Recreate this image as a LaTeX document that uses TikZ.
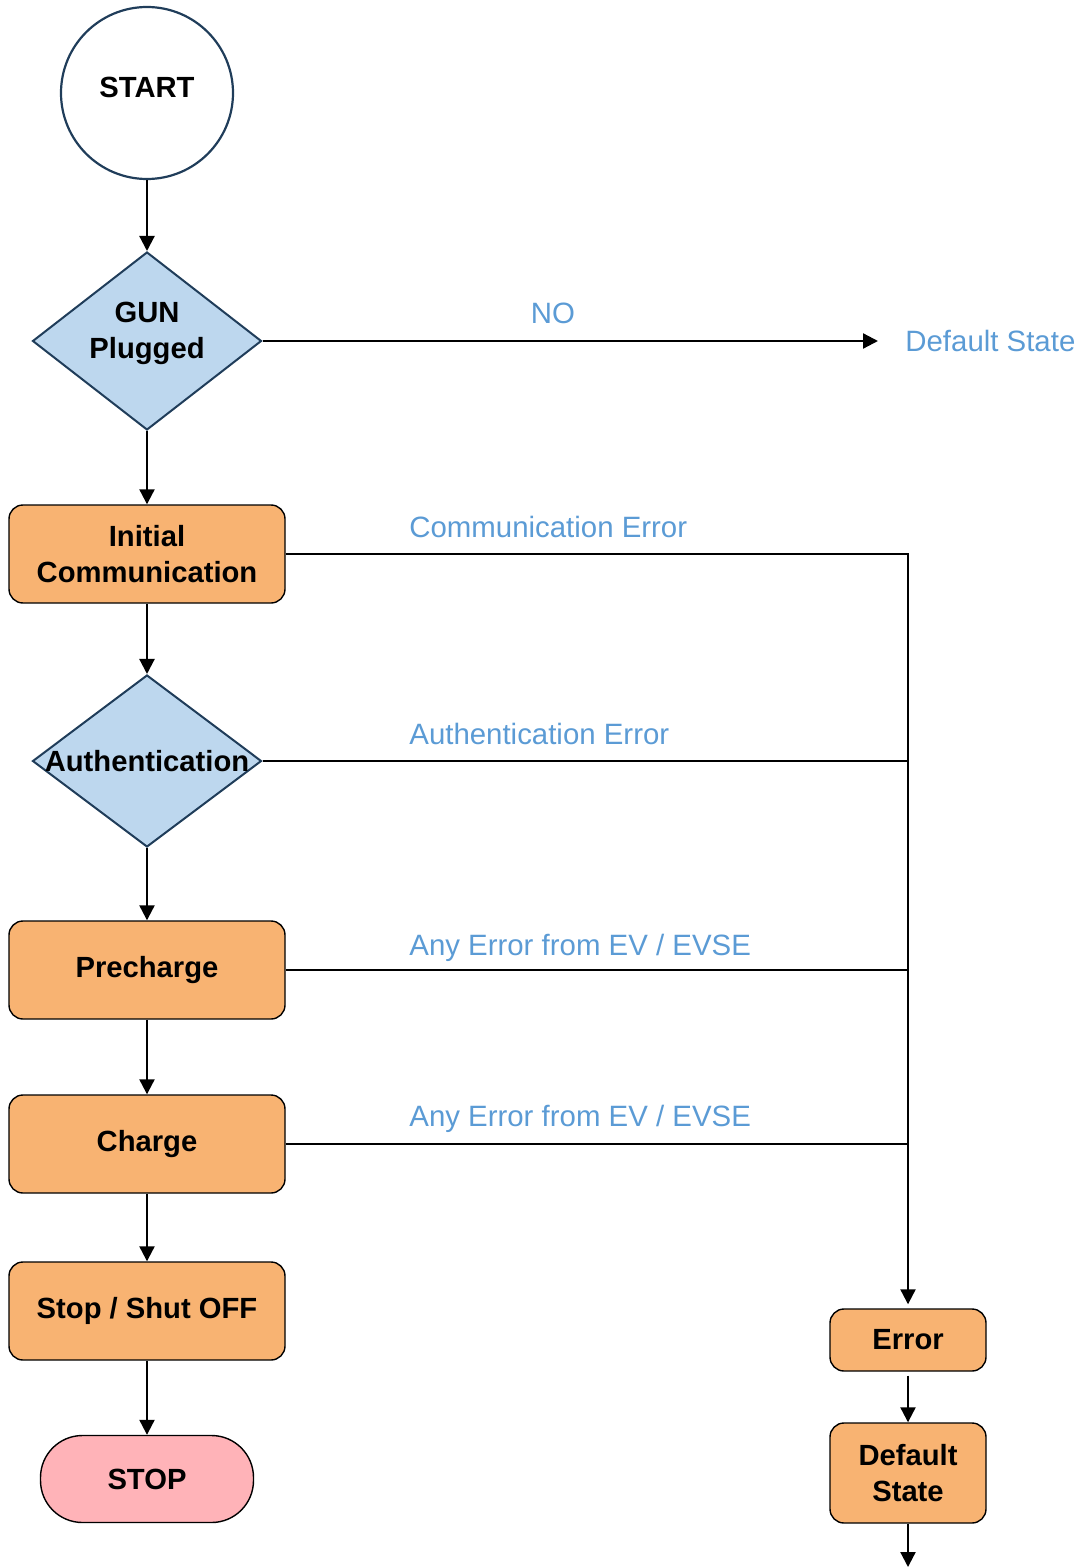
\documentclass[tikz,border=0pt]{standalone}
\usepackage{fontspec}
\setmainfont{Liberation Sans}
\usetikzlibrary{shapes.geometric,arrows.meta}
\definecolor{boxorange}{HTML}{F8B372}
\definecolor{diamblue}{HTML}{BDD7EE}
\definecolor{edgeblue}{HTML}{203D5A}
\definecolor{errblue}{HTML}{5B9BD5}
\definecolor{stoppink}{HTML}{FFB3B8}

\begin{document}
\begin{tikzpicture}[x=0.5pt,y=-0.5pt,
  every node/.style={font=\fontsize{14.6}{18}\selectfont\bfseries,align=center},
  startnode/.style={circle,draw=edgeblue,line width=1.1pt,minimum size=86pt,inner sep=0pt},
  decision/.style={diamond,draw=edgeblue,fill=diamblue,line width=1pt,minimum width=114.5pt,inner sep=0pt},
  process/.style={rectangle,rounded corners=7pt,draw,fill=boxorange,line width=0.7pt,minimum width=138pt,minimum height=49pt,inner sep=0pt},
  errtext/.style={font=\fontsize{14.7}{18}\selectfont,text=errblue,inner sep=0pt},
  flow/.style={line width=1.1pt,-{Triangle[length=7.5pt,width=7.5pt]}},
  link/.style={line width=1.1pt}]
  \useasboundingbox (0,0) rectangle (1081,1567);
  % left column
  \node[startnode,label={[yshift=3pt]center:START}] (start) at (147,93) {};
  \node[decision,minimum height=89pt,label={[yshift=4pt]center:GUN\\Plugged}] (gun) at (147,341) {};
  \node[process] (init) at (147,554) {Initial\\Communication};
  \node[decision,minimum height=86pt,label=center:Authentication] (auth) at (147,761) {};
  \node[process] (pre) at (147,970) {Precharge};
  \node[process] (chg) at (147,1144) {Charge};
  \node[process] (stopoff) at (147,1311) {Stop / Shut OFF};
  \node[rectangle,rounded corners=21pt,draw,fill=stoppink,line width=0.7pt,minimum width=106.5pt,minimum height=43.5pt] (stop) at (147,1479) {STOP};
  % right column
  \node[process,minimum width=78pt,minimum height=31pt] (err) at (908,1340) {Error};
  \node[process,minimum width=78pt,minimum height=50pt] (defst) at (908,1473) {Default\\State};
  \coordinate (out) at (908,1567);
  \node[errtext,anchor=west] (nostate) at (905,341) {Default State};
  % labels
  \node[errtext] (no) at (553,313) {NO};
  \node[errtext,anchor=base west] (commerr) at (409,537) {Communication Error};
  \node[errtext,anchor=base west] (autherr) at (409,744) {Authentication Error};
  \node[errtext,anchor=base west] (preerr) at (409,955) {Any Error from EV / EVSE};
  \node[errtext,anchor=base west] (chgerr) at (409,1126) {Any Error from EV / EVSE};

  \draw[flow] (start) -- (gun);
  \draw[flow] (gun) -- (init);
  \draw[flow] (init) -- (auth);
  \draw[flow] (auth) -- (pre);
  \draw[flow] (pre) -- (chg);
  \draw[flow] (chg) -- (stopoff);
  \draw[flow] (stopoff) -- (stop);
  \draw[flow,shorten >=13.5pt] (gun.east) -- (nostate.west);
  \draw[flow,shorten >=2pt] (init.east) -| (err.north);
  \draw[link] (auth.east) -- (auth.east -| err.north);
  \draw[link] (pre.east) -- (pre.east -| err.north);
  \draw[link] (chg.east) -- (chg.east -| err.north);
  \draw[flow,shorten <=2pt] (err) -- (defst);
  \draw[flow] (defst) -- (out);
\end{tikzpicture}
\end{document}
